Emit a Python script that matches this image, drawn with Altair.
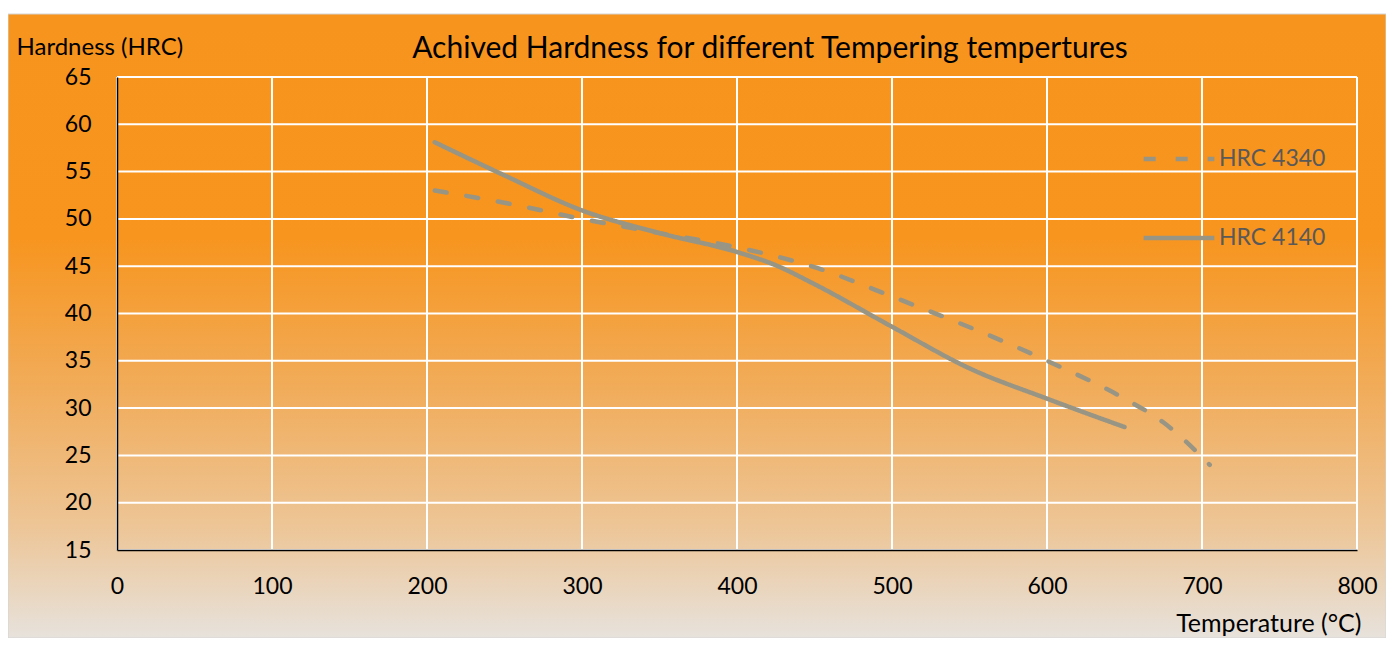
import altair as alt
import pandas as pd

# ---- data ----
temp_4340 = [205, 250, 300, 350, 400, 450, 500, 600, 650, 675, 705]
hrc_4340 = [53.0, 51.7, 50.0, 48.5, 47.0, 44.9, 41.8, 35.0, 31.0, 28.5, 24.0]

temp_4140 = [205, 250, 300, 350, 400, 425, 450, 500, 550, 600, 650]
hrc_4140 = [58.1, 54.6, 50.9, 48.5, 46.5, 45.1, 43.1, 38.6, 34.2, 31.0, 28.0]

series_names = ["HRC 4340", "HRC 4140"]
x_ticks = [0, 100, 200, 300, 400, 500, 600, 700, 800]
y_ticks = [15, 20, 25, 30, 35, 40, 45, 50, 55, 60, 65]

title_text = "Achived Hardness for different Tempering tempertures"
x_title = "Temperature (°C)"
y_title = "Hardness (HRC)"

W, H = 1240, 473
FONT = "Lato"
LINE = "#989585"

df = pd.concat([
    pd.DataFrame({"T": temp_4340, "HRC": hrc_4340, "Series": series_names[0]}),
    pd.DataFrame({"T": temp_4140, "HRC": hrc_4140, "Series": series_names[1]}),
])

xs = alt.Scale(domain=[0, 800], nice=False, zero=False)
ys = alt.Scale(domain=[15, 65], nice=False, zero=False)

x_axis = alt.Axis(
    values=x_ticks, grid=False, ticks=False, domainColor="black",
    domainWidth=1.5, labelFont=FONT, labelFontSize=23, labelColor="black",
    labelPadding=25, labelFlush=False, zindex=1,
    title=x_title, titleFont=FONT, titleFontSize=25, titleFontWeight="normal",
    titleColor="black", titleAlign="right", titleAnchor="end",
    titleX=W + 4, titleY=81, titleBaseline="alphabetic",
)
y_axis = alt.Axis(
    values=y_ticks, grid=False, ticks=False, domainColor="black",
    domainWidth=1.5, labelFont=FONT, labelFontSize=23, labelColor="black",
    labelPadding=26, labelFlush=False, zindex=1,
    title=y_title, titleFont=FONT, titleFontSize=24, titleFontWeight="normal",
    titleColor="black", titleAngle=0, titleAlign="left",
    titleX=-101, titleY=-30, titleBaseline="middle",
)

gradient = alt.LinearGradient(
    gradient="linear", x1=0, y1=0, x2=0, y2=1,
    stops=[
        alt.GradientStop(offset=0.0, color="#F7941D"),
        alt.GradientStop(offset=0.36, color="#F7951F"),
        alt.GradientStop(offset=0.6, color="#F1AC5A"),
        alt.GradientStop(offset=0.82, color="#EDC596"),
        alt.GradientStop(offset=1.0, color="#E7E2DC"),
    ],
)

bg = alt.Chart(pd.DataFrame({"d": [0]})).mark_rect(
    fill=gradient, stroke="#D4D4D4", strokeWidth=1
).encode(
    x=alt.value(-109), x2=alt.value(W + 29),
    y=alt.value(-63), y2=alt.value(H + 88),
)

vgrid = alt.Chart(pd.DataFrame({"v": x_ticks})).mark_rule(
    color="white", strokeWidth=2
).encode(
    x=alt.X("v:Q", scale=xs, axis=x_axis),
    y=alt.value(0), y2=alt.value(H),
)

hgrid = alt.Chart(pd.DataFrame({"v": y_ticks})).mark_rule(
    color="white", strokeWidth=2
).encode(
    y=alt.Y("v:Q", scale=ys, axis=y_axis),
    x=alt.value(0), x2=alt.value(W),
)

lines = alt.Chart(df).mark_line(
    interpolate="monotone", strokeWidth=4.5, strokeCap="round", color=LINE
).encode(
    x=alt.X("T:Q", scale=xs, axis=x_axis),
    y=alt.Y("HRC:Q", scale=ys, axis=y_axis),
    strokeDash=alt.StrokeDash("Series:N",
        scale=alt.Scale(domain=series_names, range=[[12, 20], [1, 0]]),
        legend=alt.Legend(
            title=None, orient="none", legendX=1024, legendY=44, padding=0,
            symbolType="stroke", symbolSize=5000, symbolStrokeWidth=4.5,
            symbolStrokeColor=LINE, labelFont=FONT, labelFontSize=23,
            labelColor="#595959", labelOffset=2, rowPadding=29,
        )),
)

chart = alt.layer(bg, vgrid, hgrid, lines).properties(
    width=W, height=H,
    title=alt.TitleParams(
        title_text, font=FONT, fontSize=30, fontWeight="normal", color="black",
        anchor="middle", frame="group", dx=33, baseline="alphabetic", offset=-74,
    ),
    autosize=alt.AutoSizeParams(type="none"),
    padding={"left": 109, "top": 69, "right": 29, "bottom": 88},
).configure_view(stroke=None).configure(background="white")

chart.save("out.html", embed_options={"renderer": "svg", "actions": False})
